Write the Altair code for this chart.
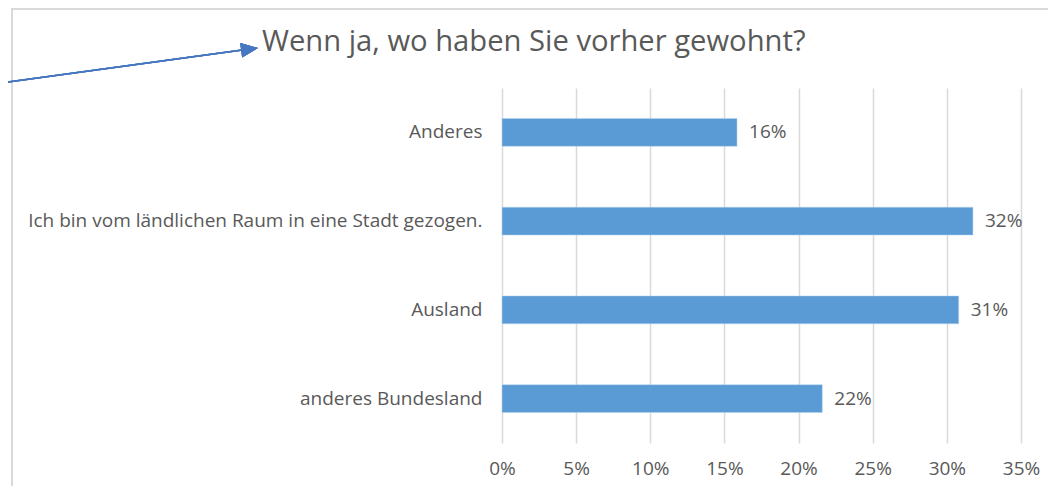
import altair as alt
import pandas as pd

categories = ["Anderes", "Ich bin vom ländlichen Raum in eine Stadt gezogen.", "Ausland", "anderes Bundesland"]
values = [0.1585, 0.3176, 0.308, 0.216]
x_ticks = [0, 0.05, 0.10, 0.15, 0.20, 0.25, 0.30, 0.35]
title_text = "Wenn ja, wo haben Sie vorher gewohnt?"

df = pd.DataFrame({"cat": categories, "val": values})

FONT = "Open Sans"
GREY = "#595959"
FS = 19
W, H = 519, 355

x_enc = alt.X("val:Q", scale=alt.Scale(domain=[0, 0.35], nice=False),
              axis=alt.Axis(values=x_ticks, format=".0%", title=None, domain=False, ticks=False,
                            grid=True, gridColor="#D9D9D9", gridWidth=1.5, labelFlush=False,
                            labelFont=FONT, labelFontSize=FS, labelColor=GREY, labelPadding=16))
y_enc = alt.Y("cat:N", sort=categories,
              scale=alt.Scale(paddingInner=0.685, paddingOuter=0.3425),
              axis=alt.Axis(title=None, domain=False, ticks=False, grid=False,
                            labelFont=FONT, labelFontSize=FS, labelColor=GREY, labelPadding=20,
                            labelLimit=600))

bars = alt.Chart(df).mark_bar(color="#5B9BD5", stroke="#BDD7EE", strokeWidth=0.5).encode(x=x_enc, y=y_enc)
labels = alt.Chart(df).mark_text(align="left", baseline="middle", dx=12, font=FONT, fontSize=FS, color=GREY).encode(
    x="val:Q", y=alt.Y("cat:N", sort=categories), text=alt.Text("val:Q", format=".0%"))

# title as text annotation
title = alt.Chart(pd.DataFrame({"t": [title_text]})).mark_text(
    align="left", baseline="middle", font=FONT, fontSize=29.2, color=GREY).encode(
    x=alt.value(-240), y=alt.value(-46), text="t:N")

# border (annotation)
border_top = alt.Chart(df).mark_rule(color="#D9D9D9", strokeWidth=2).encode(
    x=alt.value(-490), x2=alt.value(560), y=alt.value(-79))
border_left = alt.Chart(df).mark_rule(color="#D9D9D9", strokeWidth=2).encode(
    x=alt.value(-490), y=alt.value(-80), y2=alt.value(400))

# arrow (annotation)
arrow_line = alt.Chart(df).mark_rule(color="#4677C0", strokeWidth=1.5).encode(
    x=alt.value(-494), y=alt.value(-6.1), x2=alt.value(-256), y2=alt.value(-38.4))
arrow_head = alt.Chart(df).mark_point(shape="M1,0L-1,-0.85L-1,0.85Z", filled=True, color="#4677C0",
                                      opacity=1, size=289, angle=352.3).encode(
    x=alt.value(-252.4), y=alt.value(-38.9))

chart = alt.layer(bars, labels, title, border_top, border_left, arrow_line, arrow_head).properties(
    width=W, height=H,
    background="white",
    autosize=alt.AutoSizeParams(type="none"),
    padding={"left": 494, "top": 80, "right": 27, "bottom": 43},
).configure_view(stroke=None)

chart.save("out.html", embed_options={"renderer": "svg", "actions": False})
